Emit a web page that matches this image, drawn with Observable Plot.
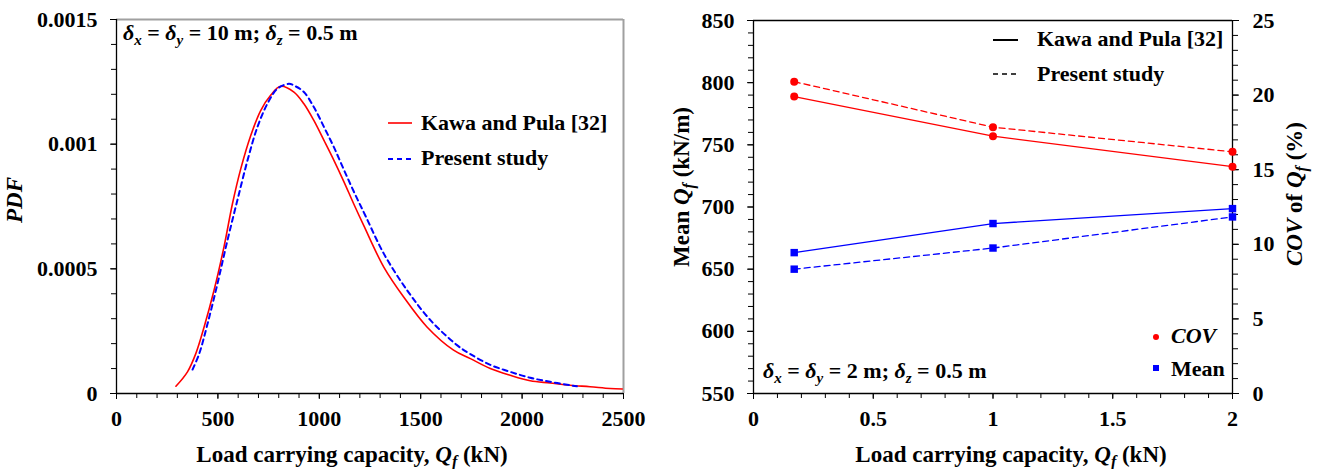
<!DOCTYPE html>
<html><head><meta charset="utf-8">
<script src="https://cdn.jsdelivr.net/npm/d3@7"></script>
<script src="https://cdn.jsdelivr.net/npm/@observablehq/plot@0.6"></script>
<style>
body{margin:0;background:#fff;}
#wrap{display:flex;width:1317px;height:469px;overflow:hidden;}
</style></head><body><div id="wrap"></div>
<script>
// ---------- Left panel data (PDF curves) ----------
const kawaQ = [293,350,391,432,481,530,572,613,662,711,760,809,875,924,973,1023,1072,1121,1170,1220,1318,1416,1531,1662,1745,1843,1941,2040,2138,2237,2335,2434,2494];
const kawaPdf = [0.000029,0.000087,0.00016,0.000267,0.000414,0.000588,0.000762,0.000902,0.001035,0.001135,0.001196,0.001232,0.001209,0.001162,0.001095,0.001015,0.000935,0.00085,0.00076,0.000672,0.000507,0.000387,0.000267,0.000174,0.00014,0.0001,0.000073,0.000051,0.000042,0.000033,0.000027,0.00002,0.000018];
const presentQ = [375,408,449,498,547,596,646,695,744,793,850,883,924,973,1023,1072,1121,1170,1228,1318,1433,1548,1679,1745,1843,1941,2040,2138,2237,2270];
const presentPdf = [0.000096,0.00016,0.00028,0.000441,0.000614,0.000775,0.000935,0.001069,0.001162,0.001222,0.001242,0.001232,0.001209,0.001149,0.001069,0.000988,0.000898,0.00081,0.000712,0.000561,0.000414,0.000294,0.000194,0.000158,0.000115,0.000087,0.000063,0.000047,0.000033,0.000029];
const leftXTicks = [0,500,1000,1500,2000,2500];
const leftXTickLabels = ["0","500","1000","1500","2000","2500"];
const leftYTicks = [0,0.0005,0.001,0.0015];
const leftYTickLabels = ["0","0.0005","0.001","0.0015"];

// ---------- Right panel data (mean & COV) ----------
const spacing = [0.17, 1, 2];
const meanKawa = [663.3, 686.7, 698.7];
const meanPresent = [650, 667, 692];
const covKawa = [19.9, 17.25, 15.2];
const covPresent = [20.9, 17.85, 16.2];
const rightXTicks = [0,0.5,1,1.5,2];
const rightXTickLabels = ["0","0.5","1","1.5","2"];
const meanTicks = [550,600,650,700,750,800,850];
const covTicks = [0,5,10,15,20,25];

const FONT = '"Liberation Serif", "Times New Roman", serif';
const RED = "#ff0000", BLUE = "#0000ff";

// COV (%) is drawn on the mean scale: 0..25 % <-> 550..850 kN/m
const covToMean = c => 550 + c * 12;
const meanToCov = m => (m - 550) / 12;

const kawaData = kawaQ.map((q, i) => ({q, p: kawaPdf[i]}));
const presentData = presentQ.map((q, i) => ({q, p: presentPdf[i]}));
const lookup = (ticks, labels) => d => { const i = ticks.findIndex(t => Math.abs(t - d) < 1e-9); return i < 0 ? "" : labels[i]; };

const style = {fontFamily: FONT, fontSize: "22px", fontWeight: "bold", background: "white", color: "black", overflow: "visible"};

const left = Plot.plot({
  width: 660, height: 469,
  marginLeft: 116, marginRight: 37, marginTop: 19, marginBottom: 76,
  style,
  x: {domain: [0, 2500]},
  y: {domain: [0, 0.0015]},
  marks: [
    Plot.axisX({ticks: d3.range(0, 2501, 100), tickSize: 5, fill: "none", label: null}),
    Plot.axisX({ticks: leftXTicks, tickSize: 6, tickPadding: 11, tickFormat: lookup(leftXTicks, leftXTickLabels), label: null}),
    Plot.axisY({ticks: d3.range(0, 0.00151, 0.0001), tickSize: 5, fill: "none", label: null}),
    Plot.axisY({ticks: leftYTicks, tickSize: 6, tickPadding: 13, tickFormat: lookup(leftYTicks, leftYTickLabels), label: null}),
    Plot.ruleY([0.0015], {stroke: "#a0a0a0", strokeWidth: 2}),
    Plot.ruleX([2500], {stroke: "#a0a0a0", strokeWidth: 2}),
    Plot.ruleX([0], {stroke: "black", strokeWidth: 1.3}),
    Plot.ruleY([0], {stroke: "black", strokeWidth: 1.3}),
    Plot.line(kawaData, {x: "q", y: "p", stroke: RED, strokeWidth: 1.6, curve: "catmull-rom"}),
    Plot.line(presentData, {x: "q", y: "p", stroke: BLUE, strokeWidth: 2, strokeDasharray: "5,4", curve: "catmull-rom"})
  ]
});

const rows = spacing.map((s, i) => ({s, mk: meanKawa[i], mp: meanPresent[i], ck: covToMean(covKawa[i]), cp: covToMean(covPresent[i])}));

const right = Plot.plot({
  width: 657, height: 469,
  marginLeft: 93, marginRight: 85, marginTop: 20, marginBottom: 76,
  style,
  x: {domain: [0, 2]},
  y: {domain: [550, 850]},
  marks: [
    Plot.axisX({ticks: d3.range(0, 2.001, 0.1), tickSize: 5, fill: "none", label: null}),
    Plot.axisX({ticks: rightXTicks, tickSize: 6, tickPadding: 11, tickFormat: lookup(rightXTicks, rightXTickLabels), label: null}),
    Plot.axisY({ticks: d3.range(550, 851, 10), tickSize: 5, fill: "none", label: null}),
    Plot.axisY({ticks: meanTicks, tickSize: 6, tickPadding: 13, tickFormat: d => String(d), label: null}),
    Plot.axisY({anchor: "right", ticks: d3.range(0, 25.01, 1).map(covToMean), tickSize: 5, fill: "none", label: null}),
    Plot.axisY({anchor: "right", ticks: covTicks.map(covToMean), tickSize: 6, tickPadding: 14, tickFormat: d => String(Math.round(meanToCov(d))), label: null}),
    Plot.ruleY([850], {stroke: "black", strokeWidth: 1.3}),
    Plot.ruleX([2], {stroke: "black", strokeWidth: 1.3}),
    Plot.ruleX([0], {stroke: "black", strokeWidth: 1.3}),
    Plot.ruleY([550], {stroke: "black", strokeWidth: 1.3}),
    Plot.line(rows, {x: "s", y: "ck", stroke: RED, strokeWidth: 1.3}),
    Plot.line(rows, {x: "s", y: "cp", stroke: RED, strokeWidth: 1.3, strokeDasharray: "6,4"}),
    Plot.line(rows, {x: "s", y: "mk", stroke: BLUE, strokeWidth: 1.3}),
    Plot.line(rows, {x: "s", y: "mp", stroke: BLUE, strokeWidth: 1.3, strokeDasharray: "6,4"}),
    Plot.dot(rows, {x: "s", y: "ck", r: 4, fill: RED}),
    Plot.dot(rows, {x: "s", y: "cp", r: 4, fill: RED}),
    Plot.dot(rows, {x: "s", y: "mk", r: 4.2, symbol: "square", fill: BLUE}),
    Plot.dot(rows, {x: "s", y: "mp", r: 4.2, symbol: "square", fill: BLUE})
  ]
});

const wrap = document.getElementById("wrap");
wrap.appendChild(left);
wrap.appendChild(right);

// ---------- rich text helpers (labels, legends, annotations) ----------
function rich(svg, x, y, parts, opts = {}) {
  const size = opts.size || 22;
  const t = d3.select(svg).append("text")
    .attr("x", x).attr("y", y)
    .attr("font-family", FONT).attr("font-size", size).attr("font-weight", "bold").attr("fill", "black")
    .attr("text-anchor", opts.anchor || "start");
  if (opts.rotate) t.attr("transform", `rotate(-90 ${x} ${y})`);
  let shifted = 0;
  for (const p of parts) {
    const s = t.append("tspan").text(p.t);
    if (p.i) s.attr("font-style", "italic");
    if (p.sub) { s.attr("font-size", Math.round(size * 0.68)); if (!shifted) { s.attr("dy", 5); shifted = 5; } }
    else if (shifted) { s.attr("dy", -shifted); shifted = 0; }
  }
  return t;
}
const xTitle = [{t: "Load carrying capacity, "}, {t: "Q", i: true}, {t: "f", i: true, sub: true}, {t: " (kN)"}];

// Left panel texts
rich(left, 352, 462, xTitle, {anchor: "middle", size: 23});
rich(left, 22, 200, [{t: "PDF", i: true}], {anchor: "middle", rotate: true, size: 23});
rich(left, 123, 40, [
  {t: "δ", i: true}, {t: "x", i: true, sub: true}, {t: " = "}, {t: "δ", i: true}, {t: "y", i: true, sub: true},
  {t: " = 10 m; "}, {t: "δ", i: true}, {t: "z", i: true, sub: true}, {t: " = 0.5 m"}
]);
const lg = d3.select(left);
lg.append("line").attr("x1", 388).attr("x2", 412).attr("y1", 123).attr("y2", 123).attr("stroke", RED).attr("stroke-width", 1.6);
rich(left, 421, 130, [{t: "Kawa and Pula [32]"}]);
lg.append("line").attr("x1", 388).attr("x2", 412).attr("y1", 159).attr("y2", 159).attr("stroke", BLUE).attr("stroke-width", 2).attr("stroke-dasharray", "5,4");
rich(left, 421, 165, [{t: "Present study"}]);

// Right panel texts
rich(right, 351, 462, xTitle, {anchor: "middle", size: 23});
rich(right, 29, 187, [{t: "Mean "}, {t: "Q", i: true}, {t: "f", i: true, sub: true}, {t: " (kN/m)"}], {anchor: "middle", rotate: true, size: 23});
rich(right, 642, 194, [{t: "COV", i: true}, {t: " of "}, {t: "Q", i: true}, {t: "f", i: true, sub: true}, {t: " (%)"}], {anchor: "middle", rotate: true, size: 23});
rich(right, 103, 378, [
  {t: "δ", i: true}, {t: "x", i: true, sub: true}, {t: " = "}, {t: "δ", i: true}, {t: "y", i: true, sub: true},
  {t: " = 2 m; "}, {t: "δ", i: true}, {t: "z", i: true, sub: true}, {t: " = 0.5 m"}
]);
const rg = d3.select(right);
rg.append("line").attr("x1", 333).attr("x2", 358).attr("y1", 40).attr("y2", 40).attr("stroke", "black").attr("stroke-width", 2);
rich(right, 377, 46, [{t: "Kawa and Pula [32]"}]);
rg.append("line").attr("x1", 333).attr("x2", 358).attr("y1", 74).attr("y2", 74).attr("stroke", "black").attr("stroke-width", 1.3).attr("stroke-dasharray", "5,4");
rich(right, 377, 81, [{t: "Present study"}]);
rg.append("circle").attr("cx", 496).attr("cy", 337).attr("r", 3).attr("fill", RED);
rich(right, 511, 343, [{t: "COV", i: true}]);
rg.append("rect").attr("x", 493).attr("y", 365).attr("width", 6).attr("height", 6).attr("fill", BLUE);
rich(right, 511, 376, [{t: "Mean"}]);
</script></body></html>
